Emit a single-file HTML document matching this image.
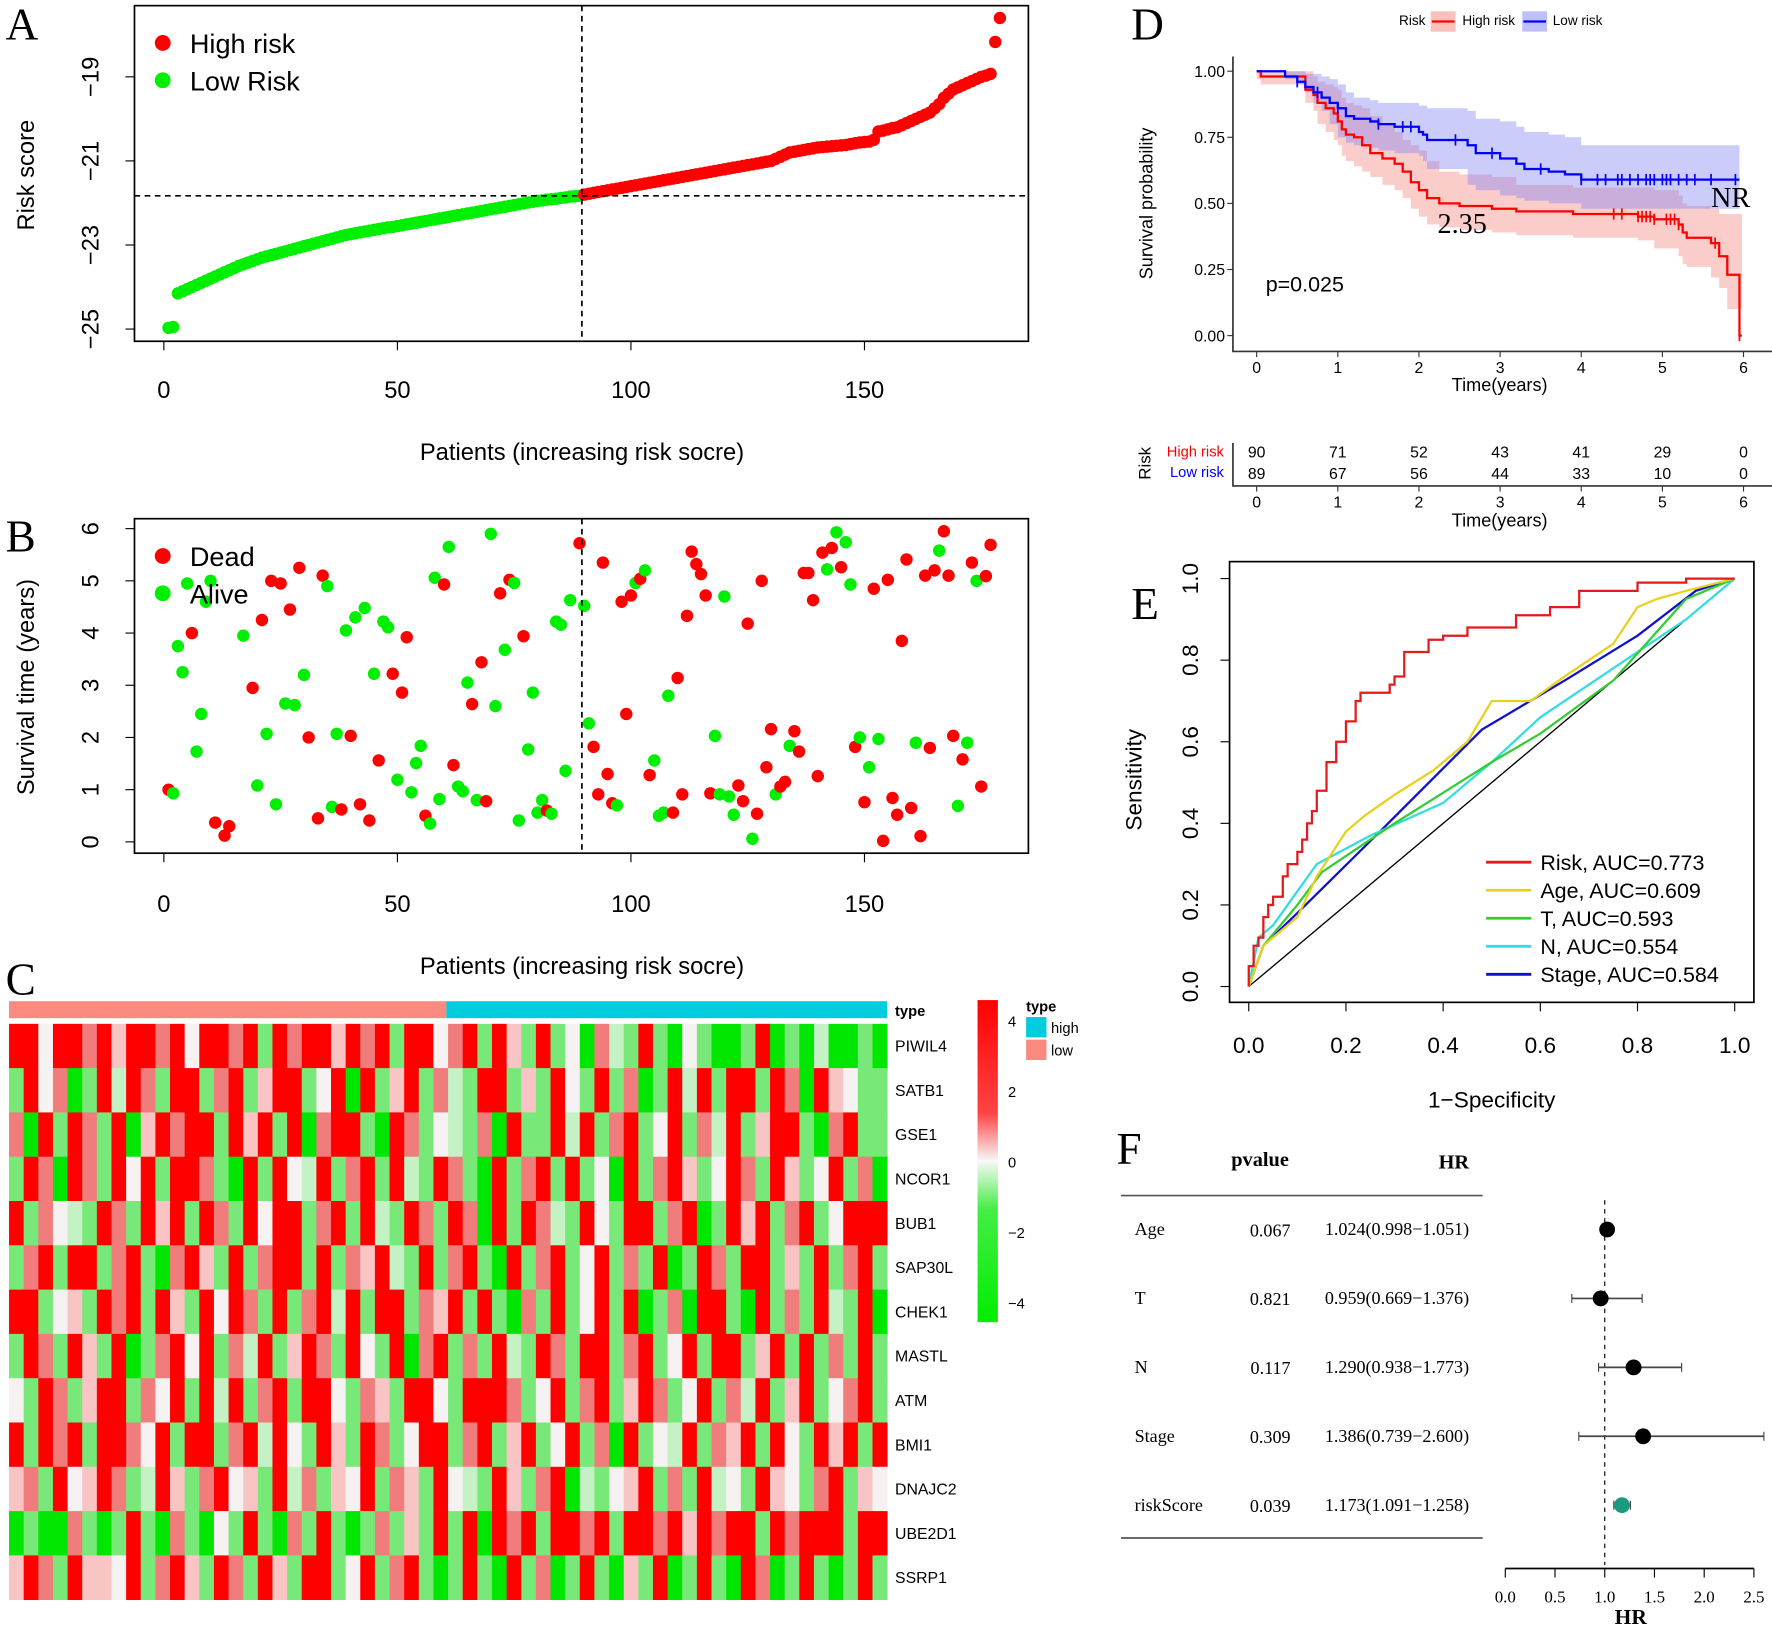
<!DOCTYPE html>
<html><head><meta charset="utf-8"><style>
html,body{margin:0;padding:0;background:#fff;}
svg{display:block;}
text{font-family:"Liberation Sans",Arial,sans-serif;}
.serif{font-family:"Liberation Serif","Times New Roman",serif;}
</style></head><body>
<svg id="fig" xmlns="http://www.w3.org/2000/svg" width="1772" height="1625" viewBox="0 0 1568 1438" preserveAspectRatio="none">
<rect width="1568" height="1438" fill="#fff"/>
</svg>
<script>
// ---------- DATA ----------
const riskScores=[-24.97,-24.95,
-24.15,-24.1,-24.05,-24.0,-23.95,-23.9,-23.85,-23.8,
-23.75,-23.7,-23.65,-23.6,-23.55,-23.5,-23.46,-23.42,-23.38,-23.34,
-23.3,-23.27,-23.24,-23.21,-23.18,-23.15,-23.12,-23.09,-23.06,-23.03,
-23.0,-22.97,-22.94,-22.91,-22.88,-22.85,-22.82,-22.79,-22.76,-22.74,
-22.72,-22.7,-22.68,-22.66,-22.64,-22.62,-22.6,-22.58,-22.57,-22.55,
-22.53,-22.51,-22.49,-22.47,-22.45,-22.43,-22.41,-22.39,-22.37,-22.35,
-22.33,-22.31,-22.29,-22.27,-22.25,-22.23,-22.21,-22.19,-22.17,-22.15,
-22.13,-22.11,-22.09,-22.07,-22.05,-22.03,-22.01,-21.99,-21.97,-21.95,
-21.94,-21.92,-21.91,-21.9,-21.88,-21.87,-21.85,-21.84,-21.83,-21.8,
-21.78,-21.76,-21.74,-21.72,-21.7,-21.68,-21.66,-21.64,-21.62,-21.6,
-21.58,-21.56,-21.54,-21.52,-21.5,-21.48,-21.46,-21.44,-21.42,-21.4,
-21.38,-21.36,-21.34,-21.32,-21.3,-21.28,-21.26,-21.24,-21.22,-21.2,
-21.18,-21.16,-21.14,-21.12,-21.1,-21.08,-21.06,-21.04,-21.02,-21.0,
-20.95,-20.9,-20.85,-20.8,-20.78,-20.76,-20.74,-20.72,-20.7,-20.68,
-20.67,-20.66,-20.65,-20.64,-20.63,-20.62,-20.6,-20.58,-20.56,-20.55,
-20.54,-20.5,-20.3,-20.28,-20.25,-20.22,-20.2,-20.15,-20.1,-20.05,
-20.0,-19.95,-19.9,-19.85,-19.75,-19.65,-19.5,-19.4,-19.3,-19.25,
-19.2,-19.15,-19.1,-19.05,-19.0,-18.97,-18.93,-18.17,-17.6];
const riskCutoff=89.5;
const riskYTicks=[-25,-23,-21,-19];
const patientTicks=[0,50,100,150];

const survPatient=[1,2,3,4,5,6,7,8,9,10,11,13,14,17,19,20,21,22,23,24,25,26,27,28,29,30,31,33,34,35,36,37,38,39,40,41,42,43,44,45,46,47,48,49,50,51,52,53,54,55,56,57,58,59,60,61,62,63,64,65,66,67,68,69,70,71,72,73,74,75,76,77,78,79,80,81,82,83,84,85,86,87,89,90,91,92,93,94,95,96,97,98,99,100,101,102,103,104,105,106,107,108,109,110,111,112,113,114,115,116,117,118,119,120,121,122,123,124,125,126,127,128,129,130,131,132,133,134,135,136,137,138,139,140,141,142,143,144,145,146,147,148,149,150,151,152,153,154,155,156,157,158,159,160,161,162,163,164,165,166,167,168,169,170,171,172,173,174,175,176,177];
const survTime=[1.0,0.93,3.75,3.25,4.95,4.0,1.73,2.45,4.6,5.0,0.37,0.12,0.3,3.95,2.95,1.08,4.25,2.07,5.0,0.72,4.95,2.65,4.45,2.62,5.25,3.2,2.0,0.45,5.1,4.9,0.67,2.07,0.62,4.05,2.03,4.3,0.72,4.48,0.41,3.22,1.56,4.22,4.11,3.22,1.19,2.86,3.92,0.95,1.51,1.84,0.5,0.35,5.06,0.82,4.93,5.65,1.47,1.06,0.97,3.05,2.64,0.8,3.44,0.78,5.9,2.6,4.76,3.68,5.02,4.96,0.41,3.94,1.77,2.86,0.56,0.8,0.6,0.54,4.22,4.16,1.36,4.63,5.72,4.52,2.27,1.82,0.91,5.35,1.3,0.74,0.7,4.6,2.45,4.72,4.96,5.04,5.2,1.28,1.56,0.5,0.56,2.8,0.56,3.14,0.91,4.33,5.56,5.32,5.13,4.72,0.93,2.03,0.91,4.7,0.87,0.52,1.08,0.78,4.18,0.06,0.54,5.0,1.43,2.16,0.91,1.06,1.15,1.84,2.12,1.73,5.15,5.15,4.63,1.26,5.54,5.22,5.63,5.93,5.26,5.74,4.93,1.82,2.0,0.76,1.43,4.85,1.97,0.02,5.02,0.84,0.52,3.85,5.41,0.65,1.9,0.11,5.1,1.8,5.2,5.58,5.95,5.1,2.03,0.69,1.58,1.9,5.35,5.0,1.06,5.09,5.69];
const survStatus="DAAAADAAAADDDADADADADADADADDDAAADADADADADAADADDAAADAAADADAAADADDAADADAADAAAADAAAAADAADDDDDADDDADADAAAADDDDDDDDDAAAAADDDADDDDADDADDDDDDDADADAADADADADDDDDDDADDDDADDDADADADDDDAADAA";
const survYTicks=[0,1,2,3,4,5,6];

const genes=["PIWIL4","SATB1","GSE1","NCOR1","BUB1","SAP30L","CHEK1","MASTL","ATM","BMI1","DNAJC2","UBE2D1","SSRP1"];
const heatRows=[
"RRwRRrRpRRrRwRRrRgRrRRpRrRgRRwrRgRpgRgwGrlgRgGwgGGgRGgGlGGgG",
"gRwrGgRlRrgRRgrRgpRRgwRGRgpRgrlgRRgpgRwgRgrGgRlRgRRgRrGRpwgg",
"rGRgRrgRGpRrRRgRpRgRGrRRgGRrgwlgrGRggRlRgrRgwRgrlRgpRRgGrRgg",
"gRrGRrgRwRgRRrgGRgRwlRgrRgRlgRrgGRgrRgRgwGRgrRpgwRrgRpgwRgrG",
"RgrwlgRrgRpRgRrgRwRRgrRgRlgRrgRrGRgRrlgRwgRRgrRGgRpRgrRgwRRR",
"grRgRRgrRgGrRpgRgrRRgRgrpRlgRgrRgGRgrRgwRgrgRGgRrgRRgpgRgrRg",
"RRgwpgRrRgRpgRwRrgRgrRlRgRRgrpRgRgGrgRgwRgRGgrGRRgGRgrgRlgRG",
"gRrgRpgRGgrRwRgrlRgpRrgRwgRGrRgrgRlgRrgRRgrRgwRgRRgpRgRgrgRg",
"wgRrgpRRgrwRgRlRgrRgRRwgrpgRRwgRRRrgwRgrRgpRrgwRgrlRgpRgwrRg",
"RgRrRgRRrwRgRRgrRlRwgRpgRrgwRRgrRgpRgwRgrGRgwlRgrpRgRwgRpRgR",
"prgRwpRrglRpgrRwpgRlrgpwRgrpgRwlgRpgrRGlgwpRgrgRlwgRpwgrRgpw",
"GgGGrgGgRgGrgGwgRgGrgRgGgrgpgRgRGRrRgRRrRgRRrRpRrRRgRrRRRgRR",
"pRrgRppwRgrRpgRrgRpgRRgwRgrRgGgRgGRgrGgRgGpgRGgRgGRrGgRgGgRg"];
const heatLegendTicks=[4,2,0,-2,-4];

const kmTicks=[0,1,2,3,4,5,6];
const kmYTicks=[0,0.25,0.5,0.75,1];
const highT=[0,0.05,0.6,0.7,0.75,0.85,0.95,1.0,1.05,1.1,1.2,1.3,1.4,1.55,1.7,1.8,1.9,2.0,2.1,2.25,2.5,2.9,3.2,3.9,4.7,4.9,5.2,5.25,5.3,5.6,5.7,5.8,5.95];
const highS=[1,0.98,0.93,0.91,0.88,0.86,0.84,0.81,0.78,0.76,0.75,0.72,0.69,0.67,0.65,0.62,0.58,0.55,0.52,0.5,0.49,0.48,0.47,0.46,0.45,0.44,0.42,0.39,0.37,0.35,0.3,0.23,0.0];
const highHi=[1,1,1,0.98,0.96,0.95,0.94,0.93,0.9,0.88,0.87,0.86,0.83,0.8,0.77,0.74,0.72,0.7,0.66,0.62,0.61,0.6,0.57,0.56,0.56,0.55,0.53,0.5,0.49,0.48,0.46,0.46,0.46];
const highLo=[0.97,0.95,0.88,0.85,0.8,0.77,0.74,0.72,0.68,0.66,0.64,0.62,0.6,0.57,0.55,0.52,0.48,0.45,0.42,0.41,0.4,0.39,0.38,0.37,0.36,0.33,0.3,0.27,0.26,0.22,0.18,0.1,0.1];
const highEnd=5.98;
const highCens=[4.4,4.5,4.7,4.75,4.8,4.85,4.9,5.05,5.1,5.15,5.2,5.65,5.95];
const lowT=[0,0.35,0.5,0.6,0.7,0.8,0.9,1.0,1.1,1.2,1.4,1.5,1.7,2.0,2.05,2.1,2.6,2.7,3.0,3.2,3.3,3.6,3.8,4.0];
const lowS=[1,0.98,0.96,0.94,0.92,0.9,0.88,0.86,0.83,0.82,0.81,0.8,0.79,0.77,0.76,0.74,0.72,0.69,0.67,0.65,0.63,0.62,0.61,0.59];
const lowHi=[1,1,1,0.99,0.99,0.98,0.97,0.95,0.92,0.9,0.89,0.88,0.88,0.87,0.87,0.86,0.85,0.82,0.81,0.79,0.77,0.76,0.75,0.72];
const lowLo=[1,0.97,0.95,0.92,0.88,0.85,0.8,0.75,0.73,0.72,0.71,0.7,0.69,0.68,0.66,0.63,0.57,0.55,0.53,0.52,0.51,0.5,0.5,0.48];
const lowEnd=5.95;
const lowCens=[0.5,0.75,1.0,1.5,1.8,1.9,2.45,2.9,3.5,4.0,4.2,4.3,4.45,4.5,4.6,4.7,4.8,4.85,4.9,5.0,5.05,5.1,5.2,5.3,5.4,5.6,5.9];
const riskHigh=[90,71,52,43,41,29,0];
const riskLow=[89,67,56,44,33,10,0];

const rocTicks=[0,0.2,0.4,0.6,0.8,1.0];
const rocNames=["Risk, AUC=0.773","Age, AUC=0.609","T, AUC=0.593","N, AUC=0.554","Stage, AUC=0.584"];
const rocColors=["#e41a1c","#e6d21e","#33cc33","#33dddd","#1010cc"];
const rocRiskX=[0,0.01,0.02,0.03,0.04,0.05,0.07,0.08,0.1,0.11,0.12,0.13,0.14,0.16,0.18,0.2,0.22,0.23,0.29,0.3,0.32,0.37,0.4,0.45,0.55,0.62,0.68,0.8,0.9,1];
const rocRiskY=[0,0.05,0.1,0.12,0.17,0.2,0.22,0.27,0.3,0.33,0.36,0.4,0.43,0.48,0.55,0.6,0.65,0.7,0.72,0.74,0.76,0.82,0.85,0.86,0.88,0.91,0.93,0.97,0.99,1];
const rocAgeX=[0,0.03,0.1,0.14,0.2,0.24,0.3,0.38,0.45,0.5,0.58,0.65,0.75,0.8,0.84,0.9,1];
const rocAgeY=[0,0.1,0.17,0.27,0.38,0.42,0.47,0.53,0.6,0.7,0.7,0.76,0.84,0.93,0.95,0.97,1];
const rocTX=[0,0.03,0.1,0.15,0.3,0.5,0.6,0.75,0.9,1];
const rocTY=[0,0.1,0.2,0.28,0.4,0.55,0.62,0.75,0.95,1];
const rocNX=[0,0.02,0.05,0.14,0.25,0.4,0.5,0.6,0.75,0.9,1];
const rocNY=[0,0.12,0.15,0.3,0.37,0.45,0.55,0.66,0.78,0.9,1];
const rocStageX=[0,0.03,0.1,0.27,0.48,0.65,0.8,0.92,1];
const rocStageY=[0,0.1,0.18,0.38,0.63,0.75,0.86,0.97,1];

const forestNames=["Age","T","N","Stage","riskScore"];
const forestP=["0.067","0.821","0.117","0.309","0.039"];
const forestHR=[1.024,0.959,1.290,1.386,1.173];
const forestLo=[0.998,0.669,0.938,0.739,1.091];
const forestHiCI=[1.051,1.376,1.773,2.600,1.258];
const forestTicks=[0,0.5,1,1.5,2,2.5];

// ---------- HELPERS ----------
const NS="http://www.w3.org/2000/svg";
const svg=document.getElementById('fig');
function mk(tag,at,parent){const e=document.createElementNS(NS,tag);for(const k in at)e.setAttribute(k,at[k]);(parent||svg).appendChild(e);return e;}
function txt(s,x,y,size,opt,parent){opt=opt||{};const e=mk('text',{x:x,y:y,'font-size':size,'text-anchor':opt.anchor||'middle',fill:opt.fill||'#000'},parent);if(opt.cls)e.setAttribute('class',opt.cls);if(opt.weight)e.setAttribute('font-weight',opt.weight);if(opt.rot!==undefined)e.setAttribute('transform','rotate('+opt.rot+' '+x+' '+y+')');e.textContent=s;return e;}
const fix=v=>v.toFixed(2);

// ---------- PANEL A ----------
const xA=p=>145+p*4.133, yA=v=>68+(-19-v)*37.2;
let t=txt('A',5,35,40,{anchor:'start',cls:'serif'});

let e=mk('rect',{x:119,y:5,width:791,height:297,fill:'none',stroke:'#000','stroke-width':1.5});

riskScores.forEach((v,i)=>{const p=i+1;const c=mk('circle',{cx:xA(p),cy:yA(v),r:5.5,fill:p>riskCutoff?'#ff0000':'#00ee00'});

});
e=mk('line',{x1:xA(riskCutoff),x2:xA(riskCutoff),y1:5,y2:302,stroke:'#000','stroke-dasharray':'5,4','stroke-width':1.5});

e=mk('line',{x1:119,x2:910,y1:yA(riskScores[88]),y2:yA(riskScores[88]),stroke:'#000','stroke-dasharray':'5,4','stroke-width':1.5});

riskYTicks.forEach(v=>{mk('line',{x1:111,x2:119,y1:yA(v),y2:yA(v),stroke:'#000'});
t=txt(String(v).replace('-','−'),87,yA(v),21,{rot:-90});
});
patientTicks.forEach(v=>{mk('line',{x1:xA(v),x2:xA(v),y1:302,y2:310,stroke:'#000'});
t=txt(String(v),xA(v),352,21);
});
t=txt('Risk score',30,155,21,{rot:-90});

t=txt('Patients (increasing risk socre)',515,407,21);

e=mk('circle',{cx:144,cy:38,r:7,fill:'#ff0000'});
t=txt('High risk',168,47,24,{anchor:'start'});
e=mk('circle',{cx:144,cy:71,r:7,fill:'#00ee00'});
t=txt('Low Risk',168,80,24,{anchor:'start'});

// ---------- PANEL B ----------
const yB=v=>745-v*46.2;
t=txt('B',5,488,40,{anchor:'start',cls:'serif'});
e=mk('rect',{x:119,y:459,width:791,height:296,fill:'none',stroke:'#000','stroke-width':1.5});

survPatient.forEach((p,i)=>{const d=survStatus[i]==='D';const c=mk('circle',{cx:xA(p),cy:yB(survTime[i]),r:5.5,fill:d?'#ff0000':'#00ee00'});

});
e=mk('line',{x1:xA(riskCutoff),x2:xA(riskCutoff),y1:459,y2:755,stroke:'#000','stroke-dasharray':'5,4','stroke-width':1.5});

survYTicks.forEach(v=>{mk('line',{x1:111,x2:119,y1:yB(v),y2:yB(v),stroke:'#000'});
t=txt(String(v),87,yB(v),21,{rot:-90});});
patientTicks.forEach(v=>{mk('line',{x1:xA(v),x2:xA(v),y1:755,y2:763,stroke:'#000'});
t=txt(String(v),xA(v),807,21);});
t=txt('Survival time (years)',30,608,21,{rot:-90});
t=txt('Patients (increasing risk socre)',515,862,21);
e=mk('circle',{cx:144,cy:492,r:7,fill:'#ff0000'});
t=txt('Dead',168,501,24,{anchor:'start'});
e=mk('circle',{cx:144,cy:525,r:7,fill:'#00ee00'});
t=txt('Alive',168,534,24,{anchor:'start'});

// ---------- PANEL C ----------
t=txt('C',5,880,40,{anchor:'start',cls:'serif'});
const hx0=8,hx1=785,hy0=906,rowH=39.2;
const heatColor={R:'#ff0000',r:'#f07c7c',p:'#f9c4c4',w:'#f6f2f2',l:'#c4f2c4',g:'#78e878',G:'#00e600'};
e=mk('rect',{x:hx0,y:886,width:387,height:15,fill:'#fa8a80'});
e=mk('rect',{x:395,y:886,width:hx1-395,height:15,fill:'#00ccdd'});
t=txt('type',792,899,13,{anchor:'start',weight:'bold'});
heatRows.forEach((row,ri)=>{const cw=(hx1-hx0)/row.length;
for(let ci=0;ci<row.length;ci++){const c=mk('rect',{x:hx0+ci*cw,y:hy0+ri*rowH,width:cw+0.4,height:rowH+0.3,fill:heatColor[row[ci]]});

}
t=txt(genes[ri],792,hy0+ri*rowH+rowH/2+5,14,{anchor:'start'});
});
const grad=mk('linearGradient',{id:'hg',x1:0,y1:0,x2:0,y2:1},mk('defs',{}));
[['0','#ff0000'],['0.35','#ff4444'],['0.5','#f8f8f8'],['0.65','#44ee44'],['1','#00ee00']].forEach(s=>mk('stop',{offset:s[0],'stop-color':s[1]},grad));
e=mk('rect',{x:865,y:885,width:18,height:285,fill:'url(#hg)'});
heatLegendTicks.forEach(v=>{t=txt(String(v).replace('-','−'),892,1029-v*31.2+4,13,{anchor:'start'});
});
t=txt('type',908,895,13,{anchor:'start',weight:'bold'});
e=mk('rect',{x:908,y:900,width:18,height:18,fill:'#00ccdd'});
t=txt('high',930,914,13,{anchor:'start'});
e=mk('rect',{x:908,y:920,width:18,height:18,fill:'#fa8a80'});
t=txt('low',930,934,13,{anchor:'start'});

// ---------- PANEL D ----------
const xD=v=>1112+v*71.8, yD=v=>297-v*234;
t=txt('D',1001,35,40,{anchor:'start',cls:'serif'});
function band(T,H,L,end,fill,name){let up='M'+fix(xD(T[0]))+','+fix(yD(H[0]));
for(let i=1;i<T.length;i++)up+='H'+fix(xD(T[i]))+'V'+fix(yD(H[i]));up+='H'+fix(xD(end));
let lo='V'+fix(yD(L[L.length-1]));for(let i=T.length-1;i>0;i--)lo+='H'+fix(xD(T[i]))+'V'+fix(yD(L[i-1]));lo+='H'+fix(xD(T[0]))+'Z';
const p=mk('path',{d:up+lo,fill:fill,'fill-opacity':0.4,stroke:'none'});return p;}
function stepPath(T,S,end){let d='M'+fix(xD(T[0]))+','+fix(yD(S[0]));for(let i=1;i<T.length;i++)d+='H'+fix(xD(T[i]))+'V'+fix(yD(S[i]));if(end>T[T.length-1])d+='H'+fix(xD(end));return d;}
e=band(highT,highHi,highLo,highEnd,'#f4827a','high-risk-ci-band');
e=band(lowT,lowHi,lowLo,lowEnd,'#7f7ff4','low-risk-ci-band');
e=mk('path',{d:stepPath(highT,highS,highEnd),fill:'none',stroke:'#ff0000','stroke-width':2});
e=mk('path',{d:stepPath(lowT,lowS,lowEnd),fill:'none',stroke:'#0000ff','stroke-width':2});
function survAt(T,S,x){let s=S[0];for(let i=0;i<T.length;i++)if(T[i]<=x)s=S[i];return s;}
highCens.forEach(c=>{const s=survAt(highT,highS,c);e=mk('line',{x1:xD(c),x2:xD(c),y1:yD(s)-5,y2:yD(s)+5,stroke:'#ff0000','stroke-width':1.5});});
lowCens.forEach(c=>{const s=survAt(lowT,lowS,c);e=mk('line',{x1:xD(c),x2:xD(c),y1:yD(s)-5,y2:yD(s)+5,stroke:'#0000ff','stroke-width':1.5});});
e=mk('path',{d:'M1091,50V311H1568',fill:'none',stroke:'#333','stroke-width':1.5});
kmYTicks.forEach(v=>{mk('line',{x1:1086,x2:1091,y1:yD(v),y2:yD(v),stroke:'#333'});
t=txt(v.toFixed(2),1084,yD(v)+5,14,{anchor:'end'});});
kmTicks.forEach(v=>{mk('line',{x1:xD(v),x2:xD(v),y1:311,y2:316,stroke:'#333'});
t=txt(String(v),xD(v),330,14);});
t=txt('Time(years)',1327,346,16);
t=txt('Survival probability',1020,180,16,{rot:-90});
t=txt('p=0.025',1120,258,19,{anchor:'start'});
t=txt('2.35',1272,206,25,{anchor:'start',cls:'serif'});
t=txt('NR',1514,183,25,{anchor:'start',cls:'serif'});
t=txt('Risk',1238,22,12,{anchor:'start'});
e=mk('rect',{x:1266,y:10,width:22,height:18,fill:'#f4827a','fill-opacity':0.5});
mk('line',{x1:1267,x2:1287,y1:19,y2:19,stroke:'#ff0000','stroke-width':2});
t=txt('High risk',1294,22,12,{anchor:'start'});
e=mk('rect',{x:1347,y:10,width:22,height:18,fill:'#7f7ff4','fill-opacity':0.5});
mk('line',{x1:1348,x2:1368,y1:19,y2:19,stroke:'#0000ff','stroke-width':2});
t=txt('Low risk',1374,22,12,{anchor:'start'});
// risk table
e=mk('path',{d:'M1091,392V430H1568',fill:'none',stroke:'#333','stroke-width':1.5});
t=txt('Risk',1018,410,15,{rot:-90});
t=txt('High risk',1083,404,13,{anchor:'end',fill:'#ff0000'});
t=txt('Low risk',1083,422,13,{anchor:'end',fill:'#0000ff'});
kmTicks.forEach((v,i)=>{t=txt(String(riskHigh[i]),xD(v),405,14);
t=txt(String(riskLow[i]),xD(v),424,14);
mk('line',{x1:xD(v),x2:xD(v),y1:430,y2:435,stroke:'#333'});
t=txt(String(v),xD(v),449,14);});
t=txt('Time(years)',1327,466,16);

// ---------- PANEL E ----------
const xE=v=>1105+v*430, yE=v=>873-v*361;
t=txt('E',1001,548,40,{anchor:'start',cls:'serif'});
e=mk('rect',{x:1088,y:497,width:464,height:390,fill:'none',stroke:'#000','stroke-width':1.5});
e=mk('line',{x1:xE(0),y1:yE(0),x2:xE(1),y2:yE(1),stroke:'#000','stroke-width':1.2});
rocTicks.forEach(v=>{mk('line',{x1:xE(v),x2:xE(v),y1:887,y2:895,stroke:'#000'});
t=txt(v.toFixed(1),xE(v),932,20);
mk('line',{x1:1080,x2:1088,y1:yE(v),y2:yE(v),stroke:'#000'});
t=txt(v.toFixed(1),1060,yE(v),20,{rot:-90});});
t=txt('1−Specificity',1320,980,20);
t=txt('Sensitivity',1010,690,20,{rot:-90});
const rocXs=[rocRiskX,rocAgeX,rocTX,rocNX,rocStageX], rocYs=[rocRiskY,rocAgeY,rocTY,rocNY,rocStageY];
const rocKeys=['risk','age','t','n','stage'];
[4,3,2,1,0].forEach(k=>{const X=rocXs[k],Y=rocYs[k];let d='M'+fix(xE(X[0]))+','+fix(yE(Y[0]));
for(let i=1;i<X.length;i++){d+= k===0 ? 'V'+fix(yE(Y[i]))+'H'+fix(xE(X[i])) : 'L'+fix(xE(X[i]))+','+fix(yE(Y[i]));}
const p=mk('path',{d:d,fill:'none',stroke:rocColors[k],'stroke-width':2});

});
rocNames.forEach((n,i)=>{const y=763+i*24.8;mk('line',{x1:1315,x2:1355,y1:y,y2:y,stroke:rocColors[i],'stroke-width':2.5});
t=txt(n,1363,y+7,19,{anchor:'start'});});

// ---------- PANEL F ----------
const xF=v=>1332+v*88;
t=txt('F',988,1030,40,{anchor:'start',cls:'serif'});
t=txt('pvalue',1115,1032,18,{cls:'serif',weight:'bold'});
t=txt('HR',1300,1034,18,{anchor:'end',cls:'serif',weight:'bold'});
e=mk('line',{x1:992,x2:1312,y1:1058,y2:1058,stroke:'#555','stroke-width':1.5});
e=mk('line',{x1:992,x2:1312,y1:1361,y2:1361,stroke:'#555','stroke-width':1.5});
e=mk('line',{x1:xF(1),x2:xF(1),y1:1062,y2:1385,stroke:'#000','stroke-dasharray':'4,4'});
forestNames.forEach((n,i)=>{const y=1088+i*61;
t=txt(n,1004,y+5,16,{anchor:'start',cls:'serif'});
t=txt(forestP[i],1142,y+6,16,{anchor:'end',cls:'serif'});
t=txt(forestHR[i].toFixed(3)+'('+forestLo[i].toFixed(3)+'−'+forestHiCI[i].toFixed(3)+')',1300,y+5,16,{anchor:'end',cls:'serif'});
e=mk('line',{x1:xF(forestLo[i]),x2:xF(forestHiCI[i]),y1:y,y2:y,stroke:'#444','stroke-width':1.5});
mk('line',{x1:xF(forestLo[i]),x2:xF(forestLo[i]),y1:y-4,y2:y+4,stroke:'#444'});mk('line',{x1:xF(forestHiCI[i]),x2:xF(forestHiCI[i]),y1:y-4,y2:y+4,stroke:'#444'});
e=mk('circle',{cx:xF(forestHR[i]),cy:y,r:7,fill:n==='riskScore'?'#1a9a80':'#000'});});
e=mk('line',{x1:xF(0),x2:xF(2.5),y1:1388,y2:1388,stroke:'#000','stroke-width':1.5});
forestTicks.forEach(v=>{mk('line',{x1:xF(v),x2:xF(v),y1:1388,y2:1396,stroke:'#000'});
t=txt(v.toFixed(1),xF(v),1418,15,{cls:'serif'});});
t=txt('HR',1443,1437,19,{cls:'serif',weight:'bold'});
</script>
</body></html>
